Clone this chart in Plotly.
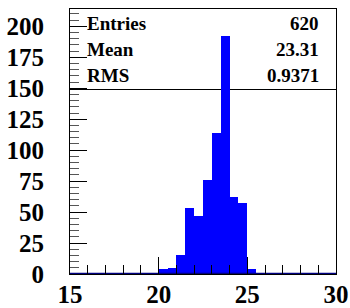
import plotly.graph_objects as go

# ---- data ----
BIN_START = 20.0
BIN_WIDTH = 0.5
counts = [4, 5, 15, 53, 47, 76, 114, 192, 62, 57, 4]
X_RANGE = [15, 30]
Y_RANGE = [0, 214]
x_ticks = [15, 20, 25, 30]
y_ticks = [0, 25, 50, 75, 100, 125, 150, 175, 200]
stat_names = ["Entries", "Mean", "RMS"]
stat_values = ["620", "23.31", "0.9371"]

centers = [BIN_START + BIN_WIDTH * (i + 0.5) for i in range(len(counts))]

FONT = "Liberation Serif, Times New Roman, serif"

fig = go.Figure()
fig.add_trace(go.Bar(
    x=centers, y=counts, width=BIN_WIDTH,
    marker=dict(color="#0000ff", line=dict(width=0)),
    showlegend=False, hoverinfo="skip",
))
# histogram outline along zero level
fig.add_trace(go.Scatter(
    x=X_RANGE, y=[0, 0], mode="lines",
    line=dict(color="#000080", width=2.5),
    showlegend=False, hoverinfo="skip", cliponaxis=False,
))

axis_common = dict(
    showgrid=False, zeroline=False, showline=True, linecolor="black",
    linewidth=1, mirror=True, ticks="inside", tickcolor="black",
    tickwidth=1, ticklen=17, automargin=False,
    tickfont=dict(family=FONT, size=25, color="black", weight="bold"),
)

fig.update_xaxes(
    range=X_RANGE, tickvals=x_ticks, ticktext=[str(v) for v in x_ticks],
    minor=dict(ticks="inside", dtick=1, tick0=15, ticklen=9, tickcolor="black", tickwidth=1),
    ticklabelstandoff=-2,
    **axis_common,
)
fig.update_yaxes(
    range=Y_RANGE, tickvals=y_ticks, ticktext=[str(v) for v in y_ticks],
    minor=dict(ticks="inside", dtick=5, tick0=0, ticklen=9, tickcolor="#555555", tickwidth=1),
    ticklabelstandoff=20,
    **axis_common,
)

# stats box
fig.add_shape(type="line", xref="paper", yref="paper", x0=0, x1=1, y0=0.6962, y1=0.6962,
              line=dict(color="black", width=1), layer="below")
row_y = [0.945, 0.847, 0.749]
for name, val, yy in zip(stat_names, stat_values, row_y):
    fig.add_annotation(xref="paper", yref="paper", x=0.056, y=yy, text=name,
                       xanchor="left", yanchor="middle", showarrow=False,
                       font=dict(family=FONT, size=19, color="black", weight="bold"))
    fig.add_annotation(xref="paper", yref="paper", x=0.943, y=yy, text=val,
                       xanchor="right", yanchor="middle", showarrow=False,
                       font=dict(family=FONT, size=19, color="black", weight="bold"))

fig.update_layout(
    width=350, height=308,
    margin=dict(l=70, r=14, t=9, b=34),
    paper_bgcolor="white", plot_bgcolor="white",
    bargap=0,
)

fig.write_html(
    "out.html",
    config={"displayModeBar": False},
    post_script="document.body.style.margin='0';document.body.style.overflow='hidden';",
)
